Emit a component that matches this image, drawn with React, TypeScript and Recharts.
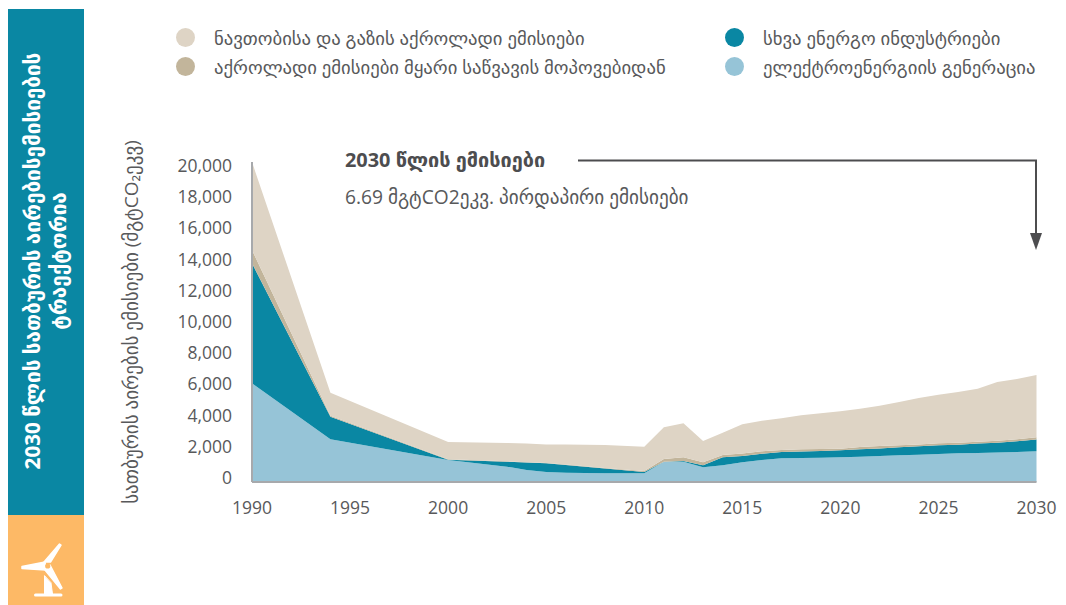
import React from 'react';
import { AreaChart, Area, XAxis, YAxis } from 'recharts';

const years = [1990, 1994, 2000, 2003, 2004, 2005, 2006, 2008, 2010, 2011, 2012, 2013, 2014, 2015, 2016, 2017, 2018, 2019, 2020, 2021, 2022, 2023, 2024, 2025, 2026, 2027, 2028, 2029, 2030];
const power = [6170, 2670, 1375, 960, 750, 625, 580, 540, 540, 1270, 1270, 920, 1040, 1230, 1375, 1480, 1500, 1520, 1540, 1580, 1625, 1670, 1710, 1750, 1790, 1810, 1850, 1875, 1920];
const otherEnergy = [7500, 1410, 20, 310, 470, 545, 480, 310, 85, 0, 40, 120, 500, 390, 395, 400, 400, 420, 440, 460, 475, 500, 520, 540, 540, 590, 610, 665, 730];
const solidFuel = [830, 60, 25, 20, 20, 20, 30, 30, 65, 170, 230, 190, 150, 160, 150, 120, 140, 120, 100, 150, 150, 120, 120, 130, 130, 120, 120, 130, 140];
const oilGas = [5500, 1440, 1080, 1150, 1160, 1160, 1260, 1430, 1510, 1980, 2130, 1330, 1390, 1830, 1910, 1980, 2130, 2230, 2340, 2390, 2520, 2710, 2900, 3040, 3170, 3310, 3670, 3770, 3900];

const xTicks = [1990, 1995, 2000, 2005, 2010, 2015, 2020, 2025, 2030];
const yTicks = [0, 2000, 4000, 6000, 8000, 10000, 12000, 14000, 16000, 18000, 20000];

const legendLeft = [
  { name: 'ნავთობისა და გაზის აქროლადი ემისიები', color: '#ded4c5' },
  { name: 'აქროლადი ემისიები მყარი საწვავის მოპოვებიდან', color: '#c2b59b' },
];
const legendRight = [
  { name: 'სხვა ენერგო ინდუსტრიები', color: '#0a87a3' },
  { name: 'ელექტროენერგიის გენერაცია', color: '#96c4d7' },
];

const data = years.map((year, i) => ({
  year,
  power: power[i],
  otherEnergy: otherEnergy[i],
  solidFuel: solidFuel[i],
  oilGas: oilGas[i],
}));

const FONT = '"Open Sans", "DejaVu Sans", sans-serif';
const TEXT = '#58595b';

const LegendRow = ({ name, color, x, y }: { name: string; color: string; x: number; y: number }) => (
  <div style={{ position: 'absolute', left: x, top: y, height: 20, display: 'flex', alignItems: 'center', whiteSpace: 'nowrap' }}>
    <span style={{ width: 19, height: 19, borderRadius: '50%', background: color, marginRight: 19 }} />
    <span style={{ fontSize: 18.7, color: TEXT }}>{name}</span>
  </div>
);

// printed labels sit on a slightly tighter spacing than the data scale
const YTick = ({ x, y, payload }: any) => (
  <text x={x} y={y - 4 + (8 * payload.value) / 20000} dy={6} textAnchor="end" fill={TEXT} fontSize={17.5}>
    {payload.value.toLocaleString('en-US')}
  </text>
);

export default function App() {
  return (
    <div style={{ position: 'absolute', left: 0, top: 0, width: 1066, height: 605, fontFamily: FONT, background: '#fff', overflow: 'hidden' }}>
      <div style={{ position: 'absolute', left: 8, top: 9, width: 76, height: 506, background: '#0a87a3' }} />
      <div style={{ position: 'absolute', left: 8, top: 515, width: 76, height: 90, background: '#fdb966' }} />
      <div
        style={{
          position: 'absolute', left: 45, top: 261, width: 0, height: 0,
          display: 'flex', alignItems: 'center', justifyContent: 'center',
        }}
      >
        <div style={{ transform: 'rotate(-90deg)', whiteSpace: 'nowrap', color: '#fff', fontWeight: 700, fontSize: 20.7, lineHeight: '26px', textAlign: 'center' }}>
          2030 წლის სათბურის აირებისემისიების
          <br />
          ტრაექტორია
        </div>
      </div>
      <svg width={76} height={90} style={{ position: 'absolute', left: 8, top: 515 }}>
        <g fill="#fff" stroke="#fff" strokeLinejoin="round" strokeLinecap="round">
          <path d="M51.5 29 L53 30 L42.5 47 L36 47 Z" strokeWidth={1.5} />
          <path d="M14 51.5 L37 47 L38 55 L14 53.5 Z" strokeWidth={1.5} />
          <path d="M37 55 L42 50 L54 73 L52.5 74 Z" strokeWidth={1.5} />
          <path d="M36.5 61 L36.5 79 L44.5 79 L43 68 Z" strokeWidth={1} />
          <path d="M27.5 80 L53 80" strokeWidth={3} />
        </g>
        <circle cx={39.7} cy={51} r={2.6} fill="#fdb966" />
      </svg>

      {legendLeft.map((d, i) => (
        <LegendRow key={d.name} name={d.name} color={d.color} x={176} y={27 + i * 29} />
      ))}
      {legendRight.map((d, i) => (
        <LegendRow key={d.name} name={d.name} color={d.color} x={725} y={27 + i * 29} />
      ))}

      <div style={{ position: 'absolute', left: 131, top: 322, width: 0, height: 0, display: 'flex', alignItems: 'center', justifyContent: 'center' }}>
        <div style={{ transform: 'rotate(-90deg)', whiteSpace: 'nowrap', color: TEXT, fontSize: 19 }}>
          სათბურის აირების ემისიები (მგტCO₂ეკვ)
        </div>
      </div>

      <AreaChart
        width={1066}
        height={605}
        data={data}
        margin={{ top: 162, right: 29.5, bottom: 93, left: 172 }}
        style={{ position: 'absolute', left: 0, top: 0 }}
      >
        <XAxis
          dataKey="year"
          type="number"
          domain={[1990, 2030]}
          ticks={xTicks}
          interval={0}
          height={30}
          tickLine={false}
          tickMargin={14}
          axisLine={{ stroke: '#a7a9ac', strokeWidth: 2 }}
          tick={{ fill: TEXT, fontSize: 17.5 }}
        />
        <YAxis
          domain={[0, 20000]}
          ticks={yTicks}
          interval={0}
          width={80}
          tickLine={false}
          tickMargin={0}
          axisLine={{ stroke: '#a7a9ac', strokeWidth: 2 }}
          tick={(props: any) => <YTick {...props} x={232} />}
        />
        <Area dataKey="power" stackId="1" type="linear" stroke="none" fill="#96c4d7" fillOpacity={1} isAnimationActive={false} />
        <Area dataKey="otherEnergy" stackId="1" type="linear" stroke="none" fill="#0a87a3" fillOpacity={1} isAnimationActive={false} />
        <Area dataKey="solidFuel" stackId="1" type="linear" stroke="none" fill="#c2b59b" fillOpacity={1} isAnimationActive={false} />
        <Area dataKey="oilGas" stackId="1" type="linear" stroke="none" fill="#ded4c5" fillOpacity={1} isAnimationActive={false} />
      </AreaChart>

      <div style={{ position: 'absolute', left: 345, top: 146, fontSize: 19.9, fontWeight: 700, color: '#4d4d4f', whiteSpace: 'nowrap' }}>
        2030 წლის ემისიები
      </div>
      <div style={{ position: 'absolute', left: 345, top: 183, fontSize: 19.2, color: TEXT, whiteSpace: 'nowrap' }}>
        6.69 მგტCO2ეკვ. პირდაპირი ემისიები
      </div>
      <svg width={1066} height={605} style={{ position: 'absolute', left: 0, top: 0, pointerEvents: 'none' }}>
        <polyline points="578,160.5 1036,160.5 1036,236" fill="none" stroke="#4d4d4f" strokeWidth={2} />
        <polygon points="1030,233 1042,233 1036,250" fill="#4d4d4f" />
      </svg>
    </div>
  );
}
